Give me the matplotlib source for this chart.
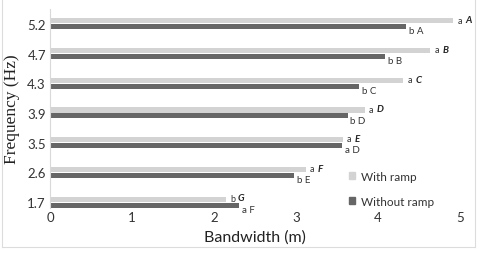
import numpy as np
import matplotlib.pyplot as plt
from matplotlib.lines import Line2D
from matplotlib.patches import Patch

freqs = ["1.7", "2.6", "3.5", "3.9", "4.3", "4.7", "5.2"]
with_ramp = [2.15, 3.12, 3.57, 3.84, 4.31, 4.64, 4.92]
without_ramp = [2.31, 2.98, 3.56, 3.63, 3.77, 4.09, 4.34]
with_lbl1 = ["b", "a", "a", "a", "a", "a", "a"]
with_lbl2 = ["G", "F", "E", "D", "C", "B", "A"]
without_lbl = ["a F", "b E", "a D", "b D", "b C", "b B", "b A"]

light = '#d3d3d3'
dark = '#666666'
sans = ['Lato', 'DejaVu Sans']

W, H = 481, 255
fig = plt.figure(figsize=(W/100, H/100), dpi=100)
ax = fig.add_axes([50/W, 1 - 209/H, 410/W, 199/H])

y = np.arange(len(freqs))
bh = 0.17
ax.barh(y + 0.1, with_ramp, height=bh, color=light, label='With ramp')
ax.barh(y - 0.1, without_ramp, height=bh, color=dark, label='Without ramp')

for i in range(len(freqs)):
    ax.annotate(with_lbl1[i], (with_ramp[i], y[i] + 0.1), xytext=(3, 0.5),
                textcoords='offset points', fontsize=6.5, va='center',
                family=sans, color='#333333')
    ax.annotate(with_lbl2[i], (with_ramp[i], y[i] + 0.1), xytext=(8.5, 0.8),
                textcoords='offset points', fontsize=7, va='center',
                family=sans, weight='bold', style='italic', color='#222222')
    ax.annotate(without_lbl[i], (without_ramp[i], y[i] - 0.1), xytext=(2, -3),
                textcoords='offset points', fontsize=7, va='center',
                family=sans, color='#333333')

ax.set_xlim(0, 5)
ax.set_ylim(-0.2, 6.5)
ax.set_yticks(y)
ax.set_yticklabels(freqs, family=sans, fontsize=9.5, color='#333333')
ax.set_xticks(range(6))
ax.set_xticklabels([str(v) for v in range(6)], family=sans, fontsize=9.5, color='#333333')
ax.tick_params(length=0, pad=3)
ax.tick_params(axis='x', pad=2)
for s in ['top', 'right', 'bottom']:
    ax.spines[s].set_visible(False)
ax.spines['left'].set_color('#d9d9d9')

ax.set_xlabel('Bandwidth (m)', family=sans, fontsize=11.5, color='#222222', labelpad=5)
ax.set_ylabel('Frequency (Hz)', family='Liberation Serif', fontsize=12.5,
              color='#222222', labelpad=5)

handles = [Patch(color=light), Patch(color=dark)]
ax.legend(handles, ['With ramp', 'Without ramp'], loc='upper left',
          bbox_to_anchor=(338/W, 1 - 161/H), bbox_transform=fig.transFigure,
          frameon=False, handlelength=0.55, handleheight=0.55, handletextpad=0.5,
          labelspacing=1.2, prop={'family': sans, 'size': 8.5}, labelcolor='#333333')

# figure border
bc = '#dcdcdc'
fig.add_artist(Line2D([1.5/W, 1.5/W], [1 - 248/H, 1], color=bc, lw=0.8, transform=fig.transFigure))
fig.add_artist(Line2D([475.5/W, 475.5/W], [1 - 248/H, 1], color=bc, lw=0.8, transform=fig.transFigure))
fig.add_artist(Line2D([1.5/W, 475.5/W], [1 - 248/H, 1 - 248/H], color=bc, lw=0.8, transform=fig.transFigure))

fig.savefig('out.png', dpi=100)
